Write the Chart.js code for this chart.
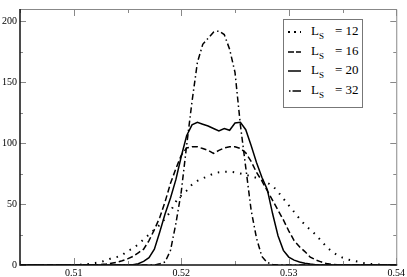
<!DOCTYPE html>
<html>
<head>
<meta charset="utf-8">
<script src="https://cdn.jsdelivr.net/npm/chart.js@4/dist/chart.umd.min.js"></script>
<style>
    body { margin: 0; background: #fff; }
    #wrap { position: relative; width: 407px; height: 277px; }
    #legend {
        position: absolute; left: 283px; top: 19px; width: 78px; height: 87px;
        border: 1px solid #777; background: #fff;
        font-family: 'Liberation Serif', serif; font-size: 13px; color: #000;
    }
    .row { position: absolute; left: 0; height: 19px; width: 78px; }
    .row svg { position: absolute; left: 3px; top: 5px; }
    .row span { position: absolute; left: 27px; top: 1px; white-space: nowrap; line-height: 13px; }
    .row sub { font-size: 9px; vertical-align: -4px; margin-right: 11px; line-height: 0; }
</style>
</head>
<body>
<div id="wrap">
    <canvas id="chart" width="407" height="277"></canvas>
    <div id="legend"></div>
</div>
<script>
// x positions shared by all curves
const xValues = [
    0.505, 0.5055, 0.506, 0.5065, 0.507, 0.5075, 0.508, 0.5085, 0.509, 0.5095,
    0.510, 0.5105, 0.511, 0.5115, 0.512, 0.5125, 0.513, 0.5135, 0.514, 0.5145,
    0.515, 0.5155, 0.516, 0.5165, 0.517, 0.5175, 0.518, 0.5185, 0.519, 0.5195,
    0.520, 0.5205, 0.521, 0.5215, 0.522, 0.5225, 0.523, 0.5235, 0.524, 0.5245,
    0.525, 0.5255, 0.526, 0.5265, 0.527, 0.5275, 0.528, 0.5285, 0.529, 0.5295,
    0.530, 0.5305, 0.531, 0.5315, 0.532, 0.5325, 0.533, 0.5335, 0.534, 0.5345,
    0.535, 0.5355, 0.536, 0.5365, 0.537, 0.5375, 0.538, 0.5385, 0.539, 0.5395,
    0.540
];

const ls12 = [
    0, 0, 0, 0, 0, 0, 0, 0, 0, 0,
    0, 0.2, 0.5, 1, 1.6, 2.4, 3.8, 5.5, 6.5, 8,
    11.5, 13.5, 17, 21, 25, 29, 33, 38, 44, 52,
    57, 61, 66, 69, 71, 73, 75, 76, 76.5, 76.6,
    76, 75, 74, 72.8, 71.5, 70, 67.5, 65, 60, 54.5,
    49, 43.5, 38, 33, 29, 25, 20, 15, 11, 8.2,
    6, 4.5, 3.4, 2.6, 1.6, 1, 0.6, 0.3, 0.1, 0,
    0
];

const ls16 = [
    0, 0, 0, 0, 0, 0, 0, 0, 0, 0,
    0, 0, 0, 0, 0, 0.3, 0.8, 1.5, 2.2, 3.5,
    5, 7, 10, 13, 20, 29, 39, 52, 67, 79,
    90, 96, 97, 97, 95.5, 94, 91.5, 94, 96, 97,
    97, 95.6, 92, 85, 76, 69, 61, 53, 45, 37,
    28, 20, 15, 11, 6.5, 4.2, 2.6, 1.2, 0.5, 0.2,
    0, 0, 0, 0, 0, 0, 0, 0, 0, 0,
    0
];

const ls20 = [
    0, 0, 0, 0, 0, 0, 0, 0, 0, 0,
    0, 0, 0, 0, 0, 0, 0, 0, 0, 0,
    0, 0.3, 1, 3, 6, 13, 27, 42, 55, 70,
    89, 106, 115, 117, 115.5, 114, 112, 110, 112, 110.5,
    116.5, 117, 111, 98, 84, 72, 62, 42, 24, 12,
    6.5, 4, 2.4, 1.5, 0.8, 0.3, 0, 0, 0, 0,
    0, 0, 0, 0, 0, 0, 0, 0, 0, 0,
    0
];

const ls32 = [
    0, 0, 0, 0, 0, 0, 0, 0, 0, 0,
    0, 0, 0, 0, 0, 0, 0, 0, 0, 0,
    0, 0, 0, 0, 0, 0, 1, 2.5, 12, 34,
    60, 98, 134, 166, 181, 186, 191, 192, 189, 177,
    158, 115, 80, 45, 22, 7, 2, 0.5, 0, 0,
    0, 0, 0, 0, 0, 0, 0, 0, 0, 0,
    0, 0, 0, 0, 0, 0, 0, 0, 0, 0,
    0
];

const seriesNames = ['12', '16', '20', '32'];
const seriesDash = [[1.5, 6], [6, 3], [], [6, 3, 1.5, 3]];

const xMajorTicks = [0.51, 0.52, 0.53, 0.54];
const xMinorTicks = [0.505, 0.515, 0.525, 0.535];
const yMajorTicks = [0, 50, 100, 150, 200];
const yMinorTicks = [25, 75, 125, 175];

const toPoints = ys => ys.map((v, i) => ({ x: xValues[i], y: v }));

const datasets = [ls12, ls16, ls20, ls32].map((ys, i) => ({
    label: 'Ls = ' + seriesNames[i],
    data: toPoints(ys),
    borderColor: '#000',
    borderWidth: i === 0 ? 2 : 1.5,
    borderDash: seriesDash[i],
    borderCapStyle: 'butt',
    pointRadius: 0,
    tension: 0,
    fill: false
}));

// inward tick marks on all four sides plus the frame
const frameTicks = {
    id: 'frameTicks',
    afterDatasetsDraw(chart) {
        const { ctx, chartArea: a, scales: { x, y } } = chart;
        ctx.save();
        ctx.lineWidth = 1;
        ctx.strokeStyle = '#888';
        const tickX = (vals, len) => vals.forEach(v => {
            const px = Math.round(x.getPixelForValue(v)) + 0.5;
            ctx.beginPath();
            ctx.moveTo(px, a.bottom); ctx.lineTo(px, a.bottom - len);
            ctx.moveTo(px, a.top); ctx.lineTo(px, a.top + len);
            ctx.stroke();
        });
        const tickY = (vals, len) => vals.forEach(v => {
            const py = Math.round(y.getPixelForValue(v)) + 0.5;
            ctx.beginPath();
            ctx.moveTo(a.left, py); ctx.lineTo(a.left + len, py);
            ctx.moveTo(a.right, py); ctx.lineTo(a.right - len, py);
            ctx.stroke();
        });
        tickX(xMajorTicks, 7);
        tickX(xMinorTicks, 4);
        tickY(yMajorTicks, 6);
        tickY(yMinorTicks, 3);

        ctx.beginPath();
        ctx.moveTo(a.left, a.top + 0.5); ctx.lineTo(a.right + 0.5, a.top + 0.5);
        ctx.lineTo(a.right + 0.5, a.bottom);
        ctx.stroke();

        ctx.strokeStyle = '#111';
        ctx.lineWidth = 1.5;
        ctx.beginPath();
        ctx.moveTo(a.left, a.top);
        ctx.lineTo(a.left, a.bottom);
        ctx.lineTo(a.right + 1, a.bottom);
        ctx.stroke();
        ctx.restore();
    }
};

const tickFont = { family: "'Liberation Serif', serif", size: 10 };

new Chart(document.getElementById('chart'), {
    type: 'line',
    data: { datasets: datasets },
    options: {
        responsive: false,
        animation: false,
        events: [],
        layout: { padding: { top: 1, right: 10, left: 0, bottom: 0 } },
        plugins: { legend: { display: false }, tooltip: { enabled: false } },
        scales: {
            x: {
                type: 'linear',
                min: 0.505,
                max: 0.54,
                grid: { display: false, drawTicks: false },
                border: { display: false },
                afterBuildTicks: s => {
                    s.ticks = [...xMinorTicks, ...xMajorTicks].sort((p, q) => p - q).map(v => ({ value: v }));
                },
                afterFit: s => { s.height = 12; },
                ticks: {
                    autoSkip: false,
                    maxRotation: 0,
                    padding: 2,
                    color: '#000',
                    font: tickFont,
                    callback: v => xMajorTicks.some(m => Math.abs(m - v) < 1e-9) ? v.toFixed(2) : ''
                }
            },
            y: {
                min: 0,
                max: 210,
                grid: { display: false, drawTicks: false },
                border: { display: false },
                afterBuildTicks: s => {
                    s.ticks = [...yMinorTicks, ...yMajorTicks].sort((p, q) => p - q).map(v => ({ value: v }));
                },
                afterFit: s => { s.width = 20; },
                ticks: {
                    autoSkip: false,
                    padding: 3,
                    color: '#000',
                    font: tickFont,
                    callback: v => yMajorTicks.includes(v) ? String(v) : ''
                }
            }
        }
    },
    plugins: [frameTicks]
});

// legend with subscript text
const legend = document.getElementById('legend');
seriesNames.forEach((name, i) => {
    const row = document.createElement('div');
    row.className = 'row';
    row.style.top = (3 + i * 19.5) + 'px';
    const svg = `<svg width="14" height="8"><line x1="${i === 3 ? 2 : 1}" y1="4" x2="14" y2="4" stroke="#000" stroke-width="${i === 0 ? 2 : 1.5}" stroke-dasharray="${i === 0 ? '2 4' : i === 1 ? '6 2' : i === 3 ? '1.5 2 10 0' : 'none'}"/></svg>`;
    row.innerHTML = svg + `<span>L<sub>S</sub>= ${name}</span>`;
    legend.appendChild(row);
});
</script>
</body>
</html>
